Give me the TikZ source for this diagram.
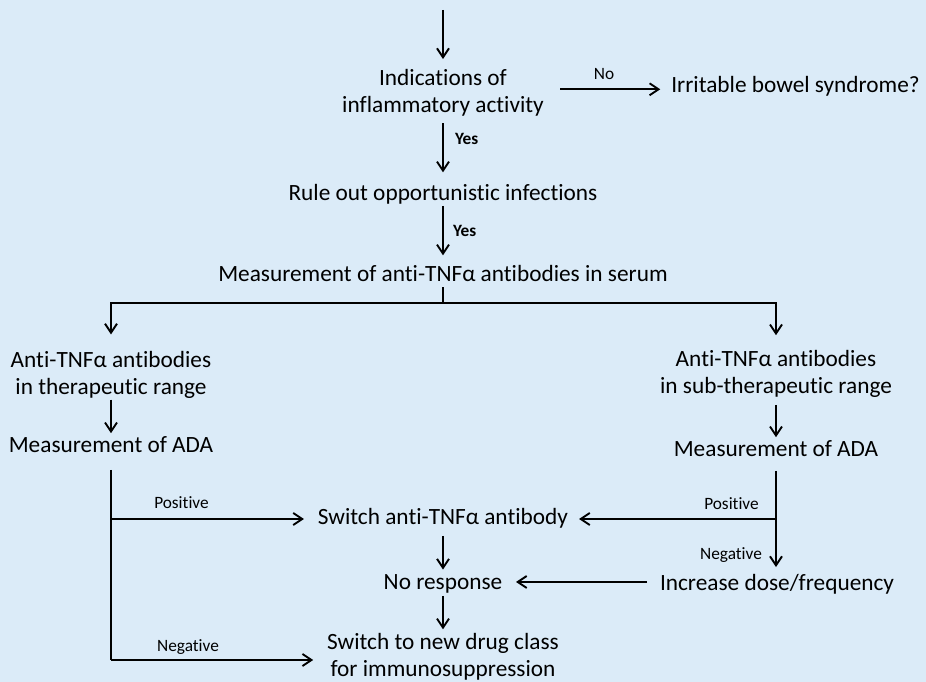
\documentclass[tikz,border=0pt]{standalone}
\usepackage{fontspec}
\setmainfont{Carlito}[Ligatures=NoCommon]
\usetikzlibrary{arrows.meta}
\definecolor{panelbg}{RGB}{219,235,248}
\begin{document}
\begin{tikzpicture}[x=1pt,y=-1pt,
  every node/.style={inner sep=0pt, outer sep=0pt},
  txt/.style={font=\fontsize{23.3}{27}\selectfont, align=center},
  lab/.style={font=\fontsize{17.3}{20}\selectfont},
  labb/.style={font=\fontsize{17.3}{20}\selectfont\bfseries},
  wire/.style={line width=1.9pt, draw=black},
  arr/.style={wire, -{Straight Barb[length=9pt,width=12pt,line width=1.9pt]}}]
% background panel
\fill[panelbg] (0,0) rectangle (926,682);
\useasboundingbox (0,0) rectangle (926,682);

% centre column
\coordinate (top) at (443,10);
\node[txt, anchor=center] (ind) at (443,92.5) {Indications of\\inflammatory activity};
\node[txt, anchor=base] (ibs) at (795.5,92.7) {Irritable bowel syndrome?};
\node[txt, anchor=base] (rule) at (443,200) {Rule out opportunistic infections};
\node[txt, anchor=base] (meas) at (443,281) {Measurement of anti-TNFα antibodies in serum};

% left branch
\node[txt, anchor=center] (antiL) at (111,375) {Anti-TNFα antibodies\\in therapeutic range};
\node[txt, anchor=base] (measL) at (111,452.7) {Measurement of ADA};

% right branch
\node[txt, anchor=center] (antiR) at (776,373.8) {Anti-TNFα antibodies\\in sub-therapeutic range};
\node[txt, anchor=base] (measR) at (776,456.7) {Measurement of ADA};
\node[txt, anchor=base] (incr) at (777,590.7) {Increase dose/frequency};

% lower centre
\node[txt, anchor=base] (switchAb) at (443,524) {Switch anti-TNFα antibody};
\node[txt, anchor=base] (noResp) at (443,589) {No response};
\node[txt, anchor=center] (switchNew) at (443,656.8) {Switch to new drug class\\for immunosuppression};

% branch points
\coordinate (split) at (443,303);
\coordinate (bpL) at (111,519);
\coordinate (cornerL) at (111,660);
\coordinate (bpR) at (776,519);

% edge labels
\node[lab, anchor=base] (lNo) at (604,80) {No};
\node[labb, anchor=base west] (lYes1) at (455,145) {Yes};
\node[labb, anchor=base west] (lYes2) at (453,236.7) {Yes};
\node[lab, anchor=base] (lPosL) at (181.5,508.3) {Positive};
\node[lab, anchor=base] (lNegL) at (188,651.7) {Negative};
\node[lab, anchor=base] (lPosR) at (731.5,509) {Positive};
\node[lab, anchor=base] (lNegR) at (731,559.3) {Negative};

% connectors: centre column
\draw[arr, shorten >=10pt] (top) -- (ind.north);
\draw[arr, shorten <=7.5pt, shorten >=11.5pt] (ind.south) -- (rule.north);
\draw[arr, shorten <=2pt, shorten >=9.5pt] (rule.south) -- (meas.north);
\draw[arr, shorten <=16.5pt, shorten >=11pt]
  ([yshift=3.2pt]ind.east) -- ([yshift=3.2pt]ind.east -| ibs.west);

% split into the two branches
\draw[wire, shorten <=6pt] (meas.south) -- (split);
\draw[arr, shorten >=17pt] (split) -| (antiL.north);
\draw[arr, shorten >=15pt] (split) -| (antiR.north);

% left branch
\draw[arr, shorten <=1pt, shorten >=3.5pt] (antiL.south) -- (measL.north);
\draw[wire, shorten <=17pt] (measL.south) -- (cornerL);
\draw[arr, shorten >=14pt] (bpL) -- (bpL -| switchAb.west);
\draw[arr, shorten >=14pt] (cornerL) -- (cornerL -| switchNew.west);

% right branch
\draw[arr, shorten <=7.6pt, shorten >=3.5pt] (antiR.south) -- (measR.north);
\draw[arr, shorten <=14pt, shorten >=7.5pt] (measR.south) -- (measR.south |- incr.north);
\draw[arr, shorten >=11pt] (bpR) -- (bpR -| switchAb.east);
\draw[arr, shorten <=13pt, shorten >=13.7pt]
  ([yshift=2.5pt]incr.west) -- ([yshift=2.5pt]incr.west -| noResp.east);

% lower centre
\draw[arr, shorten <=8pt, shorten >=4.5pt] (switchAb.south) -- (noResp.north);
\draw[arr, shorten <=3pt, shorten >=4pt] (noResp.south) -- (switchNew.north);
\end{tikzpicture}
\end{document}
